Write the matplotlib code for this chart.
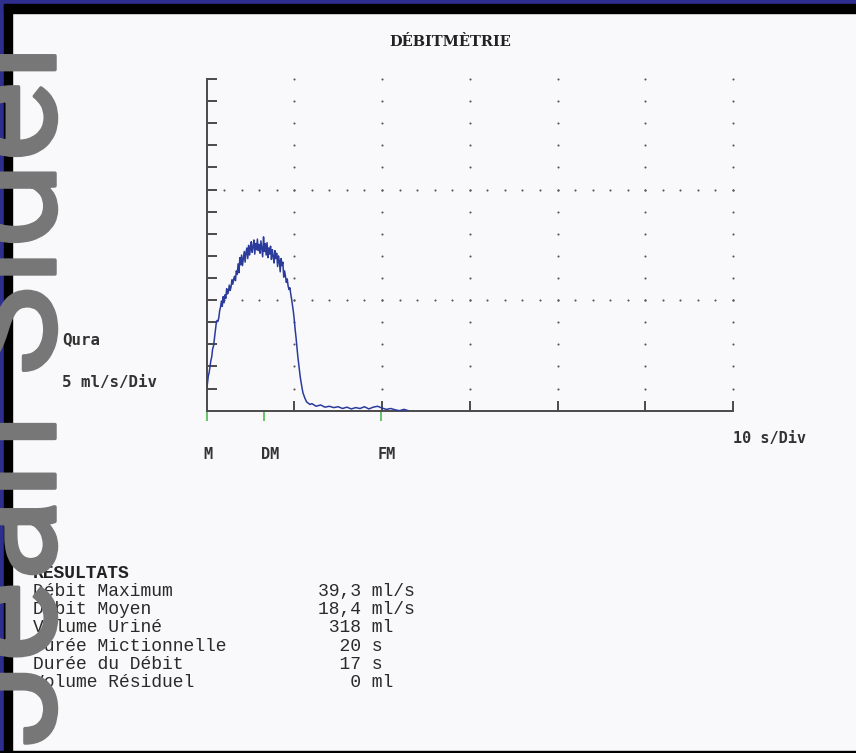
import matplotlib
matplotlib.use("Agg")
import matplotlib.pyplot as plt
import matplotlib.patheffects as pe
from matplotlib.patches import Rectangle
from matplotlib import transforms

# flow curve, dense part (s, ml/s), every 0.1 s
flow_t = [round(0.1 * i, 1) for i in range(111)]
flow_q = [4.5, 6.0, 7.8, 8.6, 10.0, 11.4, 12.2, 14.0, 14.6, 16.2,
          17.8, 19.6, 20.4, 20.2, 21.0, 22.6, 23.4, 24.8, 23.6, 25.8,
          24.4, 26.2, 25.4, 27.6, 26.4, 27.0, 28.4, 27.2, 28.0, 29.6,
          28.6, 29.8, 30.4, 29.4, 31.6, 30.8, 33.2, 31.2, 34.6, 33.0,
          35.2, 32.8, 34.4, 36.0, 33.6, 35.8, 36.8, 34.4, 37.4, 35.2,
          36.6, 38.2, 35.8, 37.0, 38.6, 35.4, 37.8, 36.4, 38.8, 36.2,
          37.6, 35.6, 38.4, 36.6, 34.8, 39.3, 36.0, 37.8, 35.2, 38.0,
          34.6, 36.8, 35.4, 37.2, 34.2, 36.4, 35.0, 33.4, 36.2, 34.4,
          35.6, 32.6, 35.0, 33.8, 31.4, 34.4, 32.8, 33.6, 30.2, 31.6,
          30.4, 29.0, 29.8, 28.2, 27.4, 27.8, 26.4, 25.2, 23.8, 22.4,
          20.6, 18.4, 16.6, 14.4, 12.4, 10.6, 9.0, 7.4, 6.2, 5.0, 4.0]
# end of the stream and dribbling tail
tail_t = [11.2, 11.4, 11.6, 11.8, 12.0, 12.5, 13.0, 13.5, 14.0, 14.5, 15.0,
          15.5, 16.0, 16.5, 17.0, 17.5, 18.0, 18.5, 19.0, 19.5, 20.0, 20.5,
          21.0, 21.5, 22.0, 22.5, 23.0]
tail_q = [2.9, 2.0, 1.7, 1.4, 1.6, 1.0, 1.3, 0.8, 1.0, 0.7, 0.9,
          0.5, 0.8, 0.4, 0.7, 0.5, 0.9, 0.4, 0.8, 1.0, 0.6, 0.3,
          0.5, 0.2, 0.0, 0.3, 0.0]

# event markers (start, max flow, end)
marker_names = ["M", "DM", "FM"]
marker_t = [0.0, 6.6, 19.9]

y_div = 5    # ml/s per division
x_div = 10   # s per division
n_ydiv = 15
n_xdiv = 6
grid_rows = [25, 50]

result_labels = ["Débit Maximum", "Débit Moyen", "Volume Uriné",
                 "Durée Mictionnelle", "Durée du Débit", "Volume Résiduel"]
result_values = ["39,3", "18,4", "318", "20", "17", "0"]
result_units = ["ml/s", "ml/s", "ml", "s", "s", "ml"]

W, H = 856, 753
axis_col = "#4a4a4a"
dot_col = "#555555"
txt_col = "#333333"


def fx(px):
    return px / W


def fy(py):
    return 1 - py / H


fig = plt.figure(figsize=(W / 100, H / 100), dpi=100, facecolor="#f9f9fb")

# scanner border
border = [((0, 0), 4, H, "#2e2e8e"), ((4, 0), 8, H, "black"),
          ((0, H - 4), W, 4, "#2e2e8e"), ((4, H - 13), W, 9, "black"),
          ((0, 0), W, 2.5, "black")]
for (x0, y0), w, h, c in border:
    fig.add_artist(Rectangle((x0 / W, y0 / H), w / W, h / H, color=c,
                             transform=fig.transFigure, zorder=2))

ax = fig.add_axes([fx(206.5), fy(410.7), (733 - 206.5) / W, (410.7 - 79) / H])
ax.set_facecolor("none")
ax.set_xlim(0, n_xdiv * x_div)
ax.set_ylim(0, n_ydiv * y_div)
for s in ("top", "right"):
    ax.spines[s].set_visible(False)
for s in ("left", "bottom"):
    ax.spines[s].set_color(axis_col)
    ax.spines[s].set_linewidth(1.4)
ax.set_xticks(range(x_div, n_xdiv * x_div + 1, x_div))
ax.set_yticks(range(y_div, n_ydiv * y_div + 1, y_div))
ax.tick_params(direction="in", length=7, width=1.4, color=axis_col,
               labelbottom=False, labelleft=False)

# dotted grid
cols = list(range(x_div, n_xdiv * x_div + 1, x_div))
levels = list(range(y_div, n_ydiv * y_div + 1, y_div))
gx = [c for c in cols for lv in levels]
gy = [lv for c in cols for lv in levels]
steps = list(range(2, n_xdiv * x_div + 1, 2))
gx += [s for r in grid_rows for s in steps]
gy += [r for r in grid_rows for s in steps]
ax.plot(gx, gy, ls="none", marker="o", ms=1.5, mew=0, color=dot_col,
        clip_on=False)

ax.plot(flow_t + tail_t, flow_q + tail_q, color="#2b3b9b", lw=1.1, zorder=3)

ax.vlines(marker_t, -2.3, 0, color="#5cbf5c", lw=1.3, clip_on=False)
off = transforms.offset_copy(ax.transData, fig=fig, x=-3, y=0, units="dots")
for t, name in zip(marker_t, marker_names):
    ax.text(t, -10, name, transform=off, ha="left", va="center",
            family="DejaVu Sans Mono", weight="bold", fontsize=11, color=txt_col)
ax.text(n_xdiv * x_div, -6.2, "10 s/Div", ha="left", va="center",
        family="DejaVu Sans Mono", weight="bold", fontsize=11, color=txt_col)

fig.text(fx(62), fy(340), "Qura", ha="left", va="center",
         family="DejaVu Sans Mono", weight="bold", fontsize=11.3, color=txt_col)
fig.text(fx(62), fy(382), "5 ml/s/Div", ha="left", va="center",
         family="DejaVu Sans Mono", weight="bold", fontsize=11.3, color=txt_col)

fig.text(fx(450), fy(42), "DÉBITMÈTRIE", ha="center", va="center",
         family="DejaVu Serif", weight="bold", fontsize=10.5, color="#222222")

# results block
fig.text(fx(33), fy(573), "RESULTATS", ha="left", va="center",
         family="Liberation Mono", weight="bold", fontsize=13, color="#222222")
for i, (lab, val, unit) in enumerate(zip(result_labels, result_values, result_units)):
    y = 591.5 + i * 18.2
    fig.text(fx(33), fy(y), lab, ha="left", va="center",
             family="Liberation Mono", fontsize=13, color="#2a2a2a")
    fig.text(fx(318), fy(y), f"{val:>4} {unit}", ha="left", va="center",
             family="Liberation Mono", fontsize=13, color="#2a2a2a")

# watermark over the scan
fig.text(fx(55), fy(747), "Jean Sidel", rotation=90, rotation_mode="anchor",
         ha="left", va="baseline", family="Roboto", fontsize=110,
         color="#777777", zorder=10,
         path_effects=[pe.withStroke(linewidth=2.5, foreground="#777777",
                                     capstyle="round", joinstyle="round")])

fig.savefig("out.png", dpi=100, facecolor=fig.get_facecolor())
